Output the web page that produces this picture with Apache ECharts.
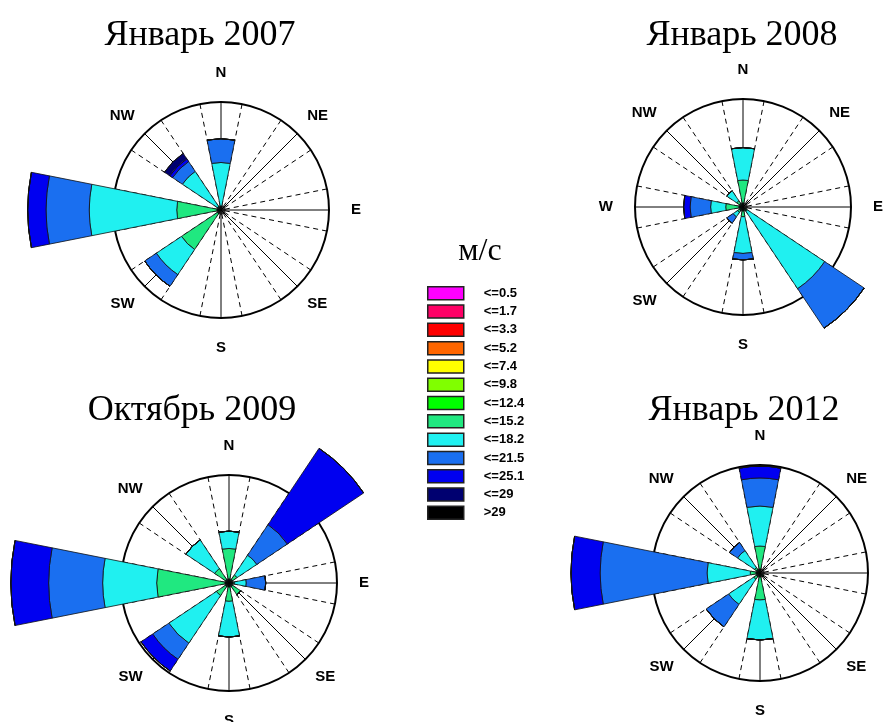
<!DOCTYPE html>
<html><head><meta charset="utf-8">
<script src="https://cdn.jsdelivr.net/npm/echarts@6/dist/echarts.min.js"></script>
<style>html,body{margin:0;padding:0;background:#fff}#c{width:888px;height:722px}</style>
</head><body><div id="c"></div>
<script>
// ---- data ----
const dirs = ['N','NNE','NE','ENE','E','ESE','SE','SSE','S','SSW','SW','WSW','W','WNW','NW','NNW'];
const speedClasses = ['<=0.5','<=1.7','<=3.3','<=5.2','<=7.4','<=9.8','<=12.4','<=15.2','<=18.2','<=21.5','<=25.1','<=29','>29'];
const classColors = ['#ff00ff','#ff0066','#ff0000','#ff6600','#ffff00','#80ff00','#00ff00','#20e880','#20f0f0','#1a6ff0','#0000f0','#000070','#000000'];
const cardinalLabels = ['N','E','S','W'];
const diagonalLabels = ['NE','SE','SW','NW'];
const titles = ['Январь 2007','Январь 2008','Октябрь 2009','Январь 2012'];
const unitLabel = 'м/с';

// frequency (%) per direction, per speed class (circle = 10 %)
const jan2007_15_2 = [0,0,0,0,0,0,0,0,0,0,4.4,0,4.1,0,0,0];
const jan2007_18_2 = [4.4,0,0,0,0,0,0,0,0,0,2.8,0,8.1,0,4.3,0];
const jan2007_21_5 = [2.2,0,0,0,0,0,0,0,0,0,1.3,0,4.0,0,1.1,0];
const jan2007_25_1 = [0,0,0,0,0,0,0,0,0,0,0,0,1.7,0,0.3,0];
const jan2007_29   = [0,0,0,0,0,0,0,0,0,0,0,0,0,0,0.6,0];

const jan2008_15_2 = [2.5,0,0,0,0,0,0.5,0,0.9,0,0.6,0,1.6,0,0.7,0];
const jan2008_18_2 = [3.0,0,0,0,0,0,8.6,0,3.4,0,0.5,0,1.4,0,1.1,0];
const jan2008_21_5 = [0,0,0,0,0,0,4.4,0,0.6,0,0.7,0,1.9,0,0,0];
const jan2008_25_1 = [0,0,0,0,0,0,0,0,0,0,0,0,0.6,0,0,0];

const oct2009_15_2 = [3.2,0,0.9,0,0.5,0,1.3,0,1.7,0,1.4,0,6.7,0,1.6,0];
const oct2009_18_2 = [1.6,0,2.2,0,1.1,0,0,0,3.3,0,5.3,0,5.0,0,3.2,0];
const oct2009_21_5 = [0,0,3.4,0,1.8,0,0,0,0,0,1.8,0,5.0,0,0,0];
const oct2009_25_1 = [0,0,8.5,0,0,0,0,0,0,0,1.3,0,3.5,0,0,0];

const jan2012_15_2 = [2.5,0,0,0,0,0,0.4,0,2.5,0,0.7,0,0.9,0,0.6,0];
const jan2012_18_2 = [3.7,0,0,0,0,0,0,0,3.7,0,2.8,0,4.0,0,1.9,0];
const jan2012_21_5 = [2.6,0,0,0,0,0,0,0,0,0,2.5,0,9.9,0,0.9,0];
const jan2012_25_1 = [1.1,0,0,0,0,0,0,0,0,0,0,0,2.7,0,0,0];

const roseData = [
  {'<=15.2': jan2007_15_2, '<=18.2': jan2007_18_2, '<=21.5': jan2007_21_5, '<=25.1': jan2007_25_1, '<=29': jan2007_29},
  {'<=15.2': jan2008_15_2, '<=18.2': jan2008_18_2, '<=21.5': jan2008_21_5, '<=25.1': jan2008_25_1},
  {'<=15.2': oct2009_15_2, '<=18.2': oct2009_18_2, '<=21.5': oct2009_21_5, '<=25.1': oct2009_25_1},
  {'<=15.2': jan2012_15_2, '<=18.2': jan2012_18_2, '<=21.5': jan2012_21_5, '<=25.1': jan2012_25_1}
];

// ---- layout ----
const R = 108, RMAX = 10;
const layout = [
  {center:[221,210], title:[195,13]},
  {center:[743,207], title:[737,13]},
  {center:[229,583], title:[187,388]},
  {center:[760,573], title:[739,388]}
];
const labelFont = {color:'#000', fontWeight:'bold', fontSize:15, fontFamily:'Liberation Sans'};

const polar = [], angleAxis = [], radiusAxis = [], series = [], title = [];
roseData.forEach((rose, i) => {
  const L = layout[i];
  polar.push({center: L.center, radius: R});
  polar.push({center: L.center, radius: R});
  angleAxis.push({
    polarIndex: 2*i, type: 'category', data: dirs, startAngle: 90 + 11.25, clockwise: true, boundaryGap: true,
    axisLine: {show: false}, axisTick: {show: false},
    splitLine: {show: true, lineStyle: {color: '#000', width: 1, type: [5, 4]}},
    axisLabel: Object.assign({show: true, interval: 0, margin: 14,
      formatter: v => diagonalLabels.indexOf(v) >= 0 ? v : ''}, labelFont)
  });
  angleAxis.push({
    polarIndex: 2*i+1, type: 'value', min: 0, max: 360, interval: 45, startAngle: 90, clockwise: true,
    axisLine: {show: true, lineStyle: {color: '#000', width: 2}}, axisTick: {show: false},
    splitLine: {show: true, lineStyle: {color: '#000', width: 1}},
    axisLabel: Object.assign({show: true, margin: 22,
      formatter: v => (v % 90 === 0 && v < 360) ? cardinalLabels[v / 90] : ''}, labelFont)
  });
  radiusAxis.push({polarIndex: 2*i, type: 'value', min: 0, max: RMAX, show: false});
  radiusAxis.push({polarIndex: 2*i+1, type: 'value', min: 0, max: RMAX, show: false});
  speedClasses.forEach((cls, c) => {
    series.push({
      type: 'bar', coordinateSystem: 'polar', polarIndex: 2*i, stack: 'rose' + i, name: cls,
      data: rose[cls] || dirs.map(() => 0),
      barCategoryGap: '0%', clip: false, silent: true, z: 3,
      itemStyle: {color: classColors[c], borderColor: '#111', borderWidth: 0.8}
    });
  });
  series.push({type: 'scatter', coordinateSystem: 'polar', polarIndex: 2*i+1, data: [[0, 0]],
    symbolSize: 9, itemStyle: {color: '#000'}, z: 10, silent: true});
  title.push({text: titles[i], left: L.title[0], top: L.title[1], textAlign: 'center',
    textStyle: {fontFamily: 'Liberation Serif', fontSize: 36, fontWeight: 'normal', color: '#000'}});
});
title.push({text: unitLabel, left: 475, top: 231, textAlign: 'center',
  textStyle: {fontFamily: 'Liberation Serif', fontSize: 32, fontWeight: 'normal', color: '#000'}});

const chart = echarts.init(document.getElementById('c'));
chart.setOption({
  animation: false,
  backgroundColor: '#fff',
  title: title,
  legend: {
    data: speedClasses, orient: 'vertical', left: 427, top: 286, padding: 0,
    itemWidth: 36, itemHeight: 13, itemGap: 3.8, icon: 'rect', selectedMode: false,
    itemStyle: {borderColor: '#222', borderWidth: 1.5},
    textStyle: {fontSize: 13, fontWeight: 'bold', fontFamily: 'Liberation Sans', color: '#000', padding: [0,0,0,15], lineHeight: 13}
  },
  polar: polar, angleAxis: angleAxis, radiusAxis: radiusAxis, series: series
});
</script></body></html>
